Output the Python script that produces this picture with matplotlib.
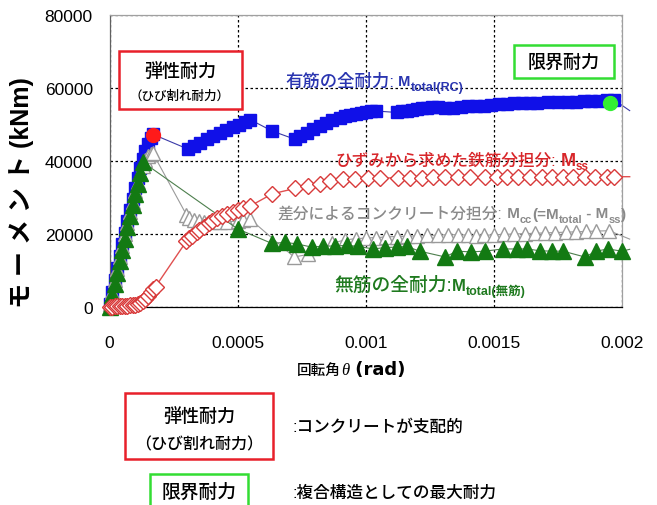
import matplotlib
matplotlib.use("Agg")
import matplotlib.pyplot as plt
from matplotlib.patches import Rectangle

plt.rcParams['font.family'] = ['Liberation Sans', 'Noto Sans CJK JP', 'DejaVu Sans']

W, H = 657, 506

# 有筋の全耐力 M_total(RC)
rc_x = [0, 0.00001, 0.00002, 0.00003, 0.00004, 0.00005, 0.00006, 0.00007, 0.00008, 0.00009,
        0.0001, 0.00011, 0.00012, 0.00013, 0.00014, 0.00015, 0.00016, 0.00017,
        0.000305, 0.00033, 0.000355, 0.00038, 0.000405, 0.00043, 0.000455, 0.00048, 0.000505,
        0.00053, 0.00055,
        0.000635, 0.000722,
        0.000745, 0.00077, 0.000795, 0.00082, 0.000845, 0.00087, 0.0009, 0.00092, 0.00094,
        0.00096, 0.00098, 0.001, 0.00102, 0.00104,
        0.00112, 0.00114, 0.00116, 0.00118, 0.0012, 0.00122, 0.00124, 0.00126, 0.00128,
        0.00131, 0.00134, 0.00137, 0.0014, 0.00143, 0.00146, 0.00149, 0.00152, 0.00155,
        0.00158, 0.00161, 0.00164, 0.00167, 0.00171, 0.00175, 0.00179, 0.00182, 0.00185,
        0.00188, 0.00191, 0.00194, 0.00197, 0.00203]
rc_y = [800, 4200, 7500, 10800, 14000, 17200, 20400, 23500, 26600, 29600,
        32500, 35300, 38000, 40500, 42800, 44700, 46200, 47300,
        43300, 44200, 45000, 45900, 46800, 47700, 48500, 49300, 50000,
        50700, 51300,
        48200, 46000,
        46900, 47800, 48700, 49600, 50400, 51100, 51800, 52300, 52700,
        53000, 53200, 53400, 53600, 53700,
        53300, 53600, 53800, 54000, 54200, 54400, 54600, 54700, 54800,
        54500, 54600, 54900, 55000, 55100, 55200, 55300, 55500, 55700,
        55800, 55900, 56000, 56000, 56100, 56200, 56200, 56300, 56400,
        56500, 56500, 56600, 56700, 53800]

# ひずみから求めた鉄筋分担分 M_ss
ss_x = [0, 0.00001, 0.00002, 0.00003, 0.00004, 0.00005, 0.00006, 0.00007, 0.00008, 0.00009,
        0.0001, 0.00011, 0.00012, 0.00013, 0.00014, 0.00015, 0.00016, 0.00017, 0.00018,
        0.0003, 0.00031, 0.00032, 0.00034, 0.00035, 0.00037, 0.00039, 0.0004, 0.00042,
        0.00044, 0.00046, 0.00048, 0.0005, 0.00052, 0.00055,
        0.000635, 0.000725, 0.000775, 0.00082, 0.00086,
        0.00091, 0.000957, 0.001008, 0.001055, 0.001125, 0.001172, 0.001219, 0.001262,
        0.001309, 0.001359, 0.001406,
        0.001465, 0.001511, 0.00155, 0.001593, 0.00164, 0.001687, 0.001726, 0.001769,
        0.001808, 0.001855, 0.001894, 0.00194, 0.00197, 0.00203]
ss_y = [0, 100, 150, 200, 250, 300, 350, 400, 450, 550,
        650, 800, 1100, 1600, 2300, 3100, 4000, 4800, 5600,
        18000, 18800, 19500, 20600, 21200, 22000, 23000, 23600, 24300,
        25000, 25500, 26000, 26500, 27000, 27700,
        31000, 32500, 33100, 33800, 34500,
        35000, 35200, 35300, 35300, 35400, 35400, 35400, 35500,
        35500, 35500, 35500,
        35500, 35600, 35600, 35600, 35600, 35600, 35600, 35600,
        35700, 35700, 35700, 35700, 35700, 35700]

# 差分によるコンクリート分担分 M_cc
cc_x = [0, 0.00001, 0.00002, 0.00003, 0.00004, 0.00005, 0.00006, 0.00007, 0.00008, 0.00009,
        0.0001, 0.00011, 0.00012, 0.00013, 0.00014, 0.00015, 0.00016, 0.000168,
        0.0003, 0.00031, 0.00033, 0.00035, 0.00037, 0.0004, 0.00043, 0.00046, 0.0005,
        0.00052, 0.00055,
        0.00072, 0.000775,
        0.00087, 0.00092, 0.00096, 0.001, 0.00104, 0.00108, 0.00112, 0.00116, 0.0012,
        0.00124, 0.00128, 0.00132, 0.00136, 0.0014, 0.00143, 0.00146, 0.0015, 0.00154,
        0.00158, 0.00162, 0.00166, 0.0017, 0.00174, 0.00178, 0.00182, 0.00186, 0.0019,
        0.00195, 0.00203]
cc_y = [800, 4100, 7300, 10500, 13700, 16800, 19900, 23000, 26000, 28900,
        31700, 34300, 36700, 38700, 40300, 41400, 42000, 42300,
        25300, 24300, 23900, 23500, 23400, 23300, 23300, 23400, 23500,
        23700, 24000,
        13700, 14400,
        17500, 18400, 18700, 18900, 19000, 19200, 19300, 19400, 19500,
        19600, 19700, 19800, 19800, 19700, 19500, 19600, 19800, 19900,
        20000, 20100, 20200, 20300, 20400, 20500, 20600, 20700, 20800,
        20900, 18600]

# 無筋の全耐力 M_total(無筋)
un_x = [0, 0.00001, 0.00002, 0.00003, 0.00004, 0.00005, 0.00006, 0.00007, 0.00008, 0.00009,
        0.0001, 0.00011, 0.00012, 0.00013,
        0.0005, 0.000634, 0.000684, 0.00073, 0.00079, 0.000833, 0.00088, 0.000926, 0.00097,
        0.00103, 0.001075, 0.00112, 0.00116, 0.00121, 0.00131, 0.001355, 0.00141, 0.001464,
        0.001535, 0.00159, 0.00163, 0.00168, 0.001726, 0.00177, 0.001855, 0.0019, 0.001944,
        0.002, 0.00203]
un_y = [0, 3200, 6300, 9400, 12500, 15600, 18700, 21800, 24800, 27900,
        30900, 33800, 36800, 39700,
        21400, 17400, 17700, 17300, 16400, 16700, 16700, 16900, 16600,
        15900, 16300, 16400, 16600, 15300, 13700, 15300, 15100, 15300,
        15900, 15900, 15900, 15400, 15300, 15300, 13700, 15300, 15900,
        15300, 15800]

crack_x, crack_y = [0.000168], [47000]
ult_x, ult_y = [0.001955], [55800]

x_ticks = [0, 0.0005, 0.001, 0.0015, 0.002]
x_tick_labels = ['0', '0.0005', '0.001', '0.0015', '0.002']
y_ticks = [0, 20000, 40000, 60000, 80000]
y_tick_labels = ['0', '20000', '40000', '60000', '80000']


def fx(px):
    return px / W


def fy(py):
    return 1 - py / H


fig = plt.figure(figsize=(W / 100, H / 100), dpi=100)
ax = fig.add_axes([fx(109.5), fy(308), (622 - 109.5) / W, (308 - 16) / H])


def series(x, y, marker, ms, mfc, mec, lc, lw, z, mew=1.0):
    ax.plot(x, y, color=lc, lw=lw, marker=marker, ms=ms, mfc=mfc, mec=mec, mew=mew,
            markevery=slice(0, len(x) - 1), clip_on=False, zorder=z)


series(rc_x, rc_y, 's', 8.3, '#1010e8', '#1010e8', '#3a3aa8', 0.8, 2)
series(cc_x, cc_y, '^', 10, 'white', '#9a9a9a', '#9a9a9a', 0.8, 3)
series(un_x, un_y, '^', 11, '#137a13', '#137a13', '#4d7f4d', 0.8, 4)
series(ss_x, ss_y, 'D', 8.3, 'white', '#d83a3a', '#e05050', 1.0, 5)
ax.plot(crack_x, crack_y, 'o', ms=10, color='#ff1a1a', zorder=6)
ax.plot(ult_x, ult_y, 'o', ms=10, color='#33ee33', zorder=6)

ax.set_xlim(0, 0.002)
ax.set_ylim(0, 80000)
ax.set_xticks(x_ticks)
ax.set_xticklabels(x_tick_labels)
ax.set_yticks(y_ticks)
ax.set_yticklabels(y_tick_labels)
ax.tick_params(axis='both', length=0, labelsize=12.5)
ax.tick_params(axis='y', pad=12)
ax.tick_params(axis='x', pad=20)
ax.set_axisbelow(True)
ax.grid(True, color='black', linestyle=(0, (2, 2)), linewidth=0.9)
ax.spines['top'].set_color('#a0a0a0')
ax.spines['right'].set_color('#a0a0a0')
ax.spines['left'].set_color('#606060')
ax.spines['bottom'].set_color('black')
for s in ax.spines.values():
    s.set_linewidth(0.9)


def rich(px, py, parts, color):
    """Place a run of text pieces one after another on a common baseline."""
    prev = None
    for p in parts:
        kw = dict(color=color, va='baseline', ha='left', annotation_clip=False,
                  textcoords='offset points', xytext=(0, p.get('dy', 0)),
                  fontsize=p['size'], fontweight=p.get('weight', 'medium'))
        if 'family' in p:
            kw['family'] = p['family']
        if 'style' in p:
            kw['fontstyle'] = p['style']
        if prev is None:
            prev = ax.annotate(p['s'], xy=(fx(px), fy(py)), xycoords='figure fraction', **kw)
        else:
            prev = ax.annotate(p['s'], xy=(1, fy(py)), xycoords=(prev, 'figure fraction'), **kw)


rich(285, 86.5, [dict(s='有筋の全耐力:', size=12.5),
                 dict(s=' M', size=10.5, weight='bold'),
                 dict(s='total(RC)', size=9, weight='bold', dy=-3)], '#2a35b0')
rich(335, 166, [dict(s='ひずみから求めた鉄筋分担分:', size=12),
                dict(s=' M', size=13, weight='bold'),
                dict(s='ss', size=8.5, weight='bold', dy=-3)], '#d8262a')
rich(278, 218.5, [dict(s='差分によるコンクリート分担分:', size=11.3),
                  dict(s=' M', size=11, weight='bold'),
                  dict(s='cc', size=8, weight='bold', dy=-3),
                  dict(s='(=M', size=11, weight='bold'),
                  dict(s='total', size=8, weight='bold', dy=-3),
                  dict(s=' - M', size=11, weight='bold'),
                  dict(s='ss', size=8, weight='bold', dy=-3),
                  dict(s=')', size=11, weight='bold')], '#8a8a8a')
rich(334, 291, [dict(s='無筋の全耐力:', size=13.5),
                dict(s='M', size=12, weight='bold'),
                dict(s='total(無筋)', size=9, weight='bold', dy=-3)], '#1f7a1f')


def box(x0, y0, x1, y1, color):
    fig.add_artist(Rectangle((fx(x0), fy(y1)), (x1 - x0) / W, (y1 - y0) / H,
                             transform=fig.transFigure, facecolor='white',
                             edgecolor=color, lw=1.8, zorder=2, clip_on=False))


def label(px, py, s, size, **kw):
    fig.text(fx(px), fy(py), s, fontsize=size, ha=kw.pop('ha', 'center'), va='center',
             zorder=3, fontweight='medium', **kw)


# boxes in the chart
box(119, 52, 242, 110, '#e8202a')
label(180, 72, '弾性耐力', 13)
label(180, 97, '（ひび割れ耐力）', 9)
box(514, 46, 614, 79, '#33dd33')
label(564, 63, '限界耐力', 13)

# axis labels
fig.text(fx(22), fy(193), 'モ ー メ ン ト (kNm)', rotation=90, fontsize=18,
         fontweight='bold', ha='center', va='center')
rich(297, 375, [dict(s='回転角', size=10.5),
                dict(s='θ', size=12, family='Liberation Serif', style='italic'),
                dict(s=' (rad)', size=13, weight='bold', family='DejaVu Sans')], 'black')

# explanation below the chart
box(125, 394, 273, 460, '#e8202a')
label(199, 417, '弾性耐力', 13)
label(199, 445, '（ひび割れ耐力）', 11.5)
label(293, 427, ':コンクリートが支配的', 12, ha='left')
box(150, 475, 248, 512, '#33dd33')
label(199, 493, '限界耐力', 13.5)
label(293, 493, ':複合構造としての最大耐力', 12, ha='left')

fig.savefig('out.png', dpi=100)
